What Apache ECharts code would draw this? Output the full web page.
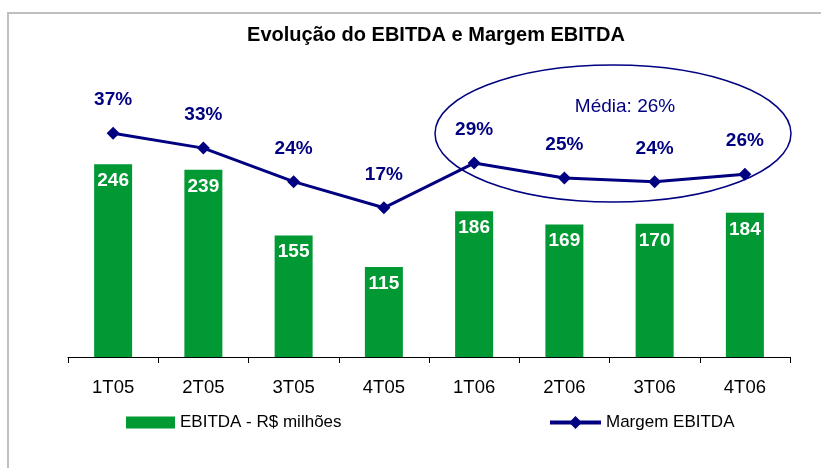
<!DOCTYPE html>
<html>
<head>
<meta charset="utf-8">
<script src="https://cdn.jsdelivr.net/npm/echarts@6/dist/echarts.min.js"></script>
<style>
* { margin: 0; padding: 0; }
#chart-container { width: 821px; height: 468px; background: #fff; }
</style>
</head>
<body>
<div id="chart-container"></div>
<script>
// trimestres
const quarters = ['1T05', '2T05', '3T05', '4T05', '1T06', '2T06', '3T06', '4T06'];
// EBITDA - R$ milhões
const ebitda = [246, 239, 155, 115, 186, 169, 170, 184];
// Margem EBITDA (%)
const margem = [37, 33, 24, 17, 29, 25, 24, 26];
const mediaLabel = 'Média: 26%';

const dom = document.getElementById('chart-container');
const myChart = echarts.init(dom, null, { renderer: 'canvas' });

const navy = '#000080';
const green = '#009933';

let option = {
    animation: false,
    title: {
        text: 'Evolução do EBITDA e Margem EBITDA',
        left: 431,
        textAlign: 'center',
        top: 20,
        textStyle: {
            fontFamily: 'Liberation Sans, Arial',
            fontSize: 20,
            fontWeight: 'bold',
            color: '#000'
        }
    },
    legend: [
        {
            data: [{ name: 'EBITDA - R$ milhões', icon: 'rect' }],
            left: 121,
            top: 409,
            itemWidth: 49,
            itemHeight: 12,
            textStyle: { fontFamily: 'Liberation Sans, Arial', fontSize: 17, color: '#000' }
        },
        {
            data: ['Margem EBITDA'],
            left: 543,
            top: 409,
            itemWidth: 51,
            itemHeight: 16,
            lineStyle: { width: 4 },
            textStyle: { fontFamily: 'Liberation Sans, Arial', fontSize: 17, color: '#000' }
        }
    ],
    grid: {
        left: 68,
        right: 31,
        top: 122,
        bottom: 111
    },
    xAxis: {
        type: 'category',
        data: quarters,
        axisLine: { lineStyle: { color: '#000', width: 1 } },
        axisTick: { show: true, length: 6, lineStyle: { color: '#000' } },
        axisLabel: {
            margin: 21,
            fontFamily: 'Liberation Sans, Arial',
            fontSize: 18.5,
            color: '#000'
        }
    },
    yAxis: [
        { type: 'value', min: 0, max: 300, show: false },
        { type: 'value', min: -23, max: 40, show: false }
    ],
    series: [
        {
            name: 'EBITDA - R$ milhões',
            type: 'bar',
            data: ebitda,
            barWidth: 38,
            itemStyle: { color: green },
            label: {
                show: true,
                position: 'insideTop',
                distance: 7,
                color: '#fff',
                fontFamily: 'Liberation Sans, Arial',
                fontSize: 19,
                fontWeight: 'bold'
            }
        },
        {
            name: 'Margem EBITDA',
            type: 'line',
            yAxisIndex: 1,
            data: margem,
            symbol: 'diamond',
            symbolSize: 13,
            z: 5,
            lineStyle: { color: navy, width: 3 },
            itemStyle: { color: navy },
            label: {
                show: true,
                position: 'top',
                distance: 17,
                formatter: '{c}%',
                color: navy,
                fontFamily: 'Liberation Sans, Arial',
                fontSize: 19,
                fontWeight: 'bold'
            }
        }
    ],
    graphic: [
        // moldura
        { type: 'line', shape: { x1: 7, y1: 13, x2: 821, y2: 13 }, style: { stroke: '#c0c0c0', lineWidth: 2 } },
        { type: 'line', shape: { x1: 8, y1: 12, x2: 8, y2: 468 }, style: { stroke: '#c0c0c0', lineWidth: 2 } },
        // destaque da média
        {
            type: 'ellipse',
            shape: { cx: 613, cy: 133.5, rx: 178, ry: 68.5 },
            style: { fill: 'none', stroke: navy, lineWidth: 1.5 },
            z: 10
        },
        {
            type: 'text',
            x: 625,
            y: 107,
            style: {
                text: mediaLabel,
                fill: navy,
                fontFamily: 'Liberation Sans, Arial',
                fontSize: 19,
                align: 'center',
                verticalAlign: 'middle'
            },
            z: 10
        }
    ]
};

myChart.setOption(option);
window.addEventListener('resize', () => {
    myChart.resize();
});
</script>
</body>
</html>
